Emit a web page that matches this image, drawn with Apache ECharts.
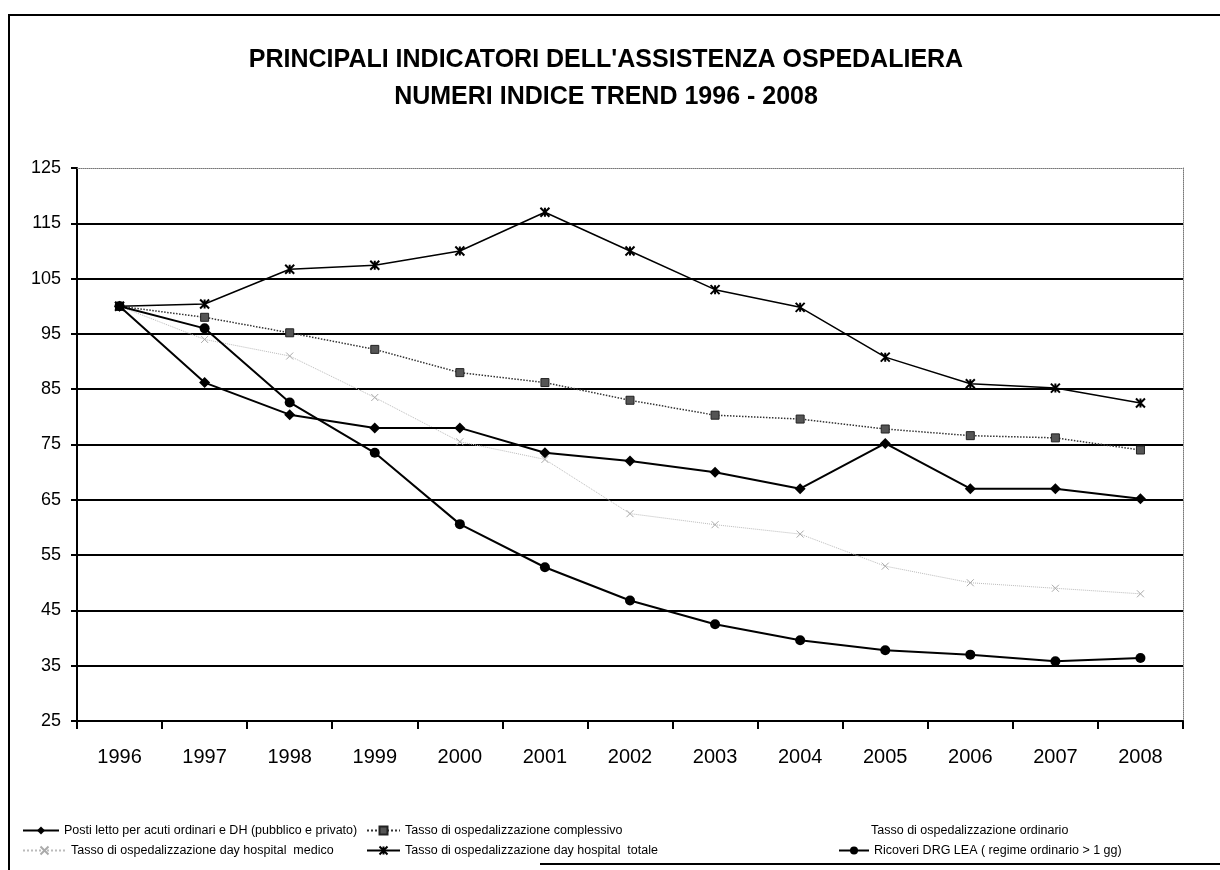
<!DOCTYPE html>
<html>
<head>
<meta charset="utf-8">
<title>Indicatori assistenza ospedaliera</title>
<script src="https://cdn.jsdelivr.net/npm/echarts@6/dist/echarts.min.js"></script>
<style>
  html, body { margin: 0; padding: 0; background: #fff; }
  #chart { width: 1220px; height: 870px; }
</style>
</head>
<body>
<div id="chart"></div>
<script>
// anni (asse x)
const anni = ['1996', '1997', '1998', '1999', '2000', '2001', '2002', '2003', '2004', '2005', '2006', '2007', '2008'];
// tick asse y
const yMin = 25, yMax = 125, yStep = 10;

// serie (numeri indice, 1996 = 100)
const postiLetto       = [100, 86.2, 80.4, 78.0, 78.0, 73.5, 72.0, 70.0, 67.0, 75.2, 67.0, 67.0, 65.2];
const tassoComplessivo = [100, 98.0, 95.2, 92.2, 88.0, 86.2, 83.0, 80.3, 79.6, 77.8, 76.6, 76.2, 74.0];
const tassoOrdinario   = [null, null, null, null, null, null, null, null, null, null, null, null, null]; // non visibile
const dhMedico         = [100, 94.0, 91.0, 83.5, 75.5, 72.3, 62.5, 60.5, 58.8, 53.0, 50.0, 49.0, 48.0];
const dhTotale         = [100, 100.4, 106.7, 107.4, 110.0, 117.0, 110.0, 103.0, 99.8, 90.8, 86.0, 85.2, 82.5];
const ricoveriDrg      = [100, 96.0, 82.6, 73.5, 60.6, 52.8, 46.8, 42.5, 39.6, 37.8, 37.0, 35.8, 36.4];

const nomi = {
  posti: 'Posti letto per acuti ordinari e DH (pubblico e privato)',
  compl: 'Tasso di ospedalizzazione complessivo',
  ord: 'Tasso di ospedalizzazione ordinario',
  dhMed: 'Tasso di ospedalizzazione day hospital  medico',
  dhTot: 'Tasso di ospedalizzazione day hospital  totale',
  drg: 'Ricoveri DRG LEA ( regime ordinario > 1 gg)'
};

const FONT = 'Liberation Sans, Arial, sans-serif';
const chart = echarts.init(document.getElementById('chart'));

// gridline: nera, tranne quella in alto (bordo tratteggiato)
const nLinee = (yMax - yMin) / yStep + 1;
const coloriGriglia = [];
for (let i = 0; i < nLinee; i++) coloriGriglia.push(i === nLinee - 1 ? 'rgba(0,0,0,0)' : '#000');

const asterisco = 'path://M0,0L10,10M10,0L0,10M5,0L5,10';
const croce = 'path://M0,0L10,10M10,0L0,10';

function legenda(nome, left, top, w) {
  return {
    data: [nome], left: left, top: top, orient: 'horizontal',
    itemWidth: w, itemHeight: 10, itemGap: 0, padding: 0,
    textStyle: { fontSize: 12.5, color: '#000', fontFamily: FONT, padding: [0, 0, 0, 0] },
    selectedMode: false
  };
}

const option = {
  animation: false,
  backgroundColor: '#fff',
  title: {
    text: "PRINCIPALI INDICATORI DELL'ASSISTENZA OSPEDALIERA\nNUMERI INDICE TREND 1996 - 2008",
    left: 601, top: 37, textAlign: 'center',
    textStyle: { fontSize: 25, fontWeight: 'bold', color: '#000', fontFamily: FONT, lineHeight: 37, align: 'center' }
  },
  grid: { left: 77, right: 37, top: 168, bottom: 149, containLabel: false },
  legend: [
    legenda(nomi.posti, 22, 824, 36),
    legenda(nomi.compl, 366, 824, 33),
    legenda(nomi.ord, 832, 824, 33),
    legenda(nomi.dhMed, 22, 844, 43),
    legenda(nomi.dhTot, 366, 844, 33),
    legenda(nomi.drg, 838, 844, 30)
  ],
  xAxis: [
    {
      type: 'category', data: anni, boundaryGap: true,
      axisLine: { show: true, lineStyle: { color: '#000', width: 2 } },
      axisTick: { show: true, inside: false, length: 8, lineStyle: { color: '#000', width: 2 } },
      axisLabel: { color: '#000', fontSize: 20, fontFamily: FONT, margin: 26 },
      splitLine: { show: false }
    },
    {
      type: 'category', data: anni, position: 'top', boundaryGap: true,
      axisLine: { show: true, lineStyle: { color: '#777', width: 1, type: 'dotted' } },
      axisTick: { show: false }, axisLabel: { show: false }, splitLine: { show: false }
    }
  ],
  yAxis: [
    {
      type: 'value', min: yMin, max: yMax, interval: yStep,
      axisLine: { show: true, lineStyle: { color: '#000', width: 2 } },
      axisTick: { show: true, inside: false, length: 6, lineStyle: { color: '#000', width: 2 } },
      axisLabel: { color: '#000', fontSize: 18, fontFamily: FONT, margin: 16 },
      splitLine: { show: true, lineStyle: { color: coloriGriglia, width: 2 } }
    },
    {
      type: 'value', min: yMin, max: yMax, interval: yStep, position: 'right',
      axisLine: { show: true, lineStyle: { color: '#777', width: 1, type: 'dotted' } },
      axisTick: { show: false }, axisLabel: { show: false }, splitLine: { show: false }
    }
  ],
  series: [
    {
      name: nomi.posti, type: 'line', data: postiLetto,
      symbol: 'diamond', symbolSize: 11, color: '#000',
      lineStyle: { color: '#000', width: 2 }, itemStyle: { color: '#000' }, z: 5
    },
    {
      name: nomi.compl, type: 'line', data: tassoComplessivo,
      symbol: 'rect', symbolSize: 8, color: '#444',
      lineStyle: { color: '#333', width: 1.5, type: 'dotted' },
      itemStyle: { color: '#555', borderColor: '#222', borderWidth: 1 }, z: 4
    },
    {
      name: nomi.ord, type: 'line', data: tassoOrdinario,
      symbol: 'none', color: '#fff',
      lineStyle: { color: '#fff', width: 1 }, itemStyle: { color: '#fff' }
    },
    {
      name: nomi.dhMed, type: 'line', data: dhMedico,
      symbol: croce, symbolSize: 7, color: '#bbb',
      lineStyle: { color: '#bbb', width: 1, type: 'dotted' },
      itemStyle: { color: 'none', borderColor: '#aaa', borderWidth: 1 }, z: 3
    },
    {
      name: nomi.dhTot, type: 'line', data: dhTotale,
      symbol: asterisco, symbolSize: 9, color: '#000',
      lineStyle: { color: '#000', width: 1.5 },
      itemStyle: { color: 'none', borderColor: '#000', borderWidth: 2 }, z: 5
    },
    {
      name: nomi.drg, type: 'line', data: ricoveriDrg,
      symbol: 'circle', symbolSize: 10, color: '#000',
      lineStyle: { color: '#000', width: 2 }, itemStyle: { color: '#000' }, z: 5
    }
  ],
  graphic: [
    {
      type: 'polyline', silent: true,
      shape: { points: [[9, 880], [9, 15], [1230, 15]] },
      style: { stroke: '#000', lineWidth: 2, fill: null }
    },
    {
      type: 'line', silent: true,
      shape: { x1: 540, y1: 864, x2: 1220, y2: 864 },
      style: { stroke: '#000', lineWidth: 2 }
    }
  ]
};

chart.setOption(option);
</script>
</body>
</html>
